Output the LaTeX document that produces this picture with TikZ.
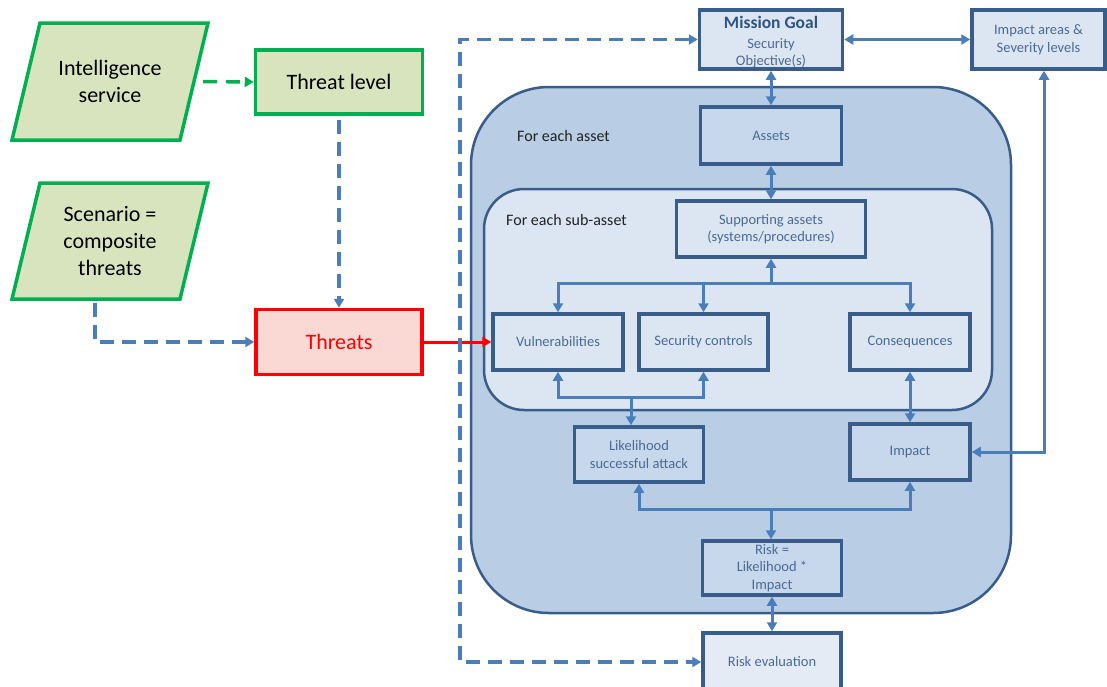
\documentclass[tikz,border=0pt]{standalone}
\usepackage{fontspec}
\setmainfont{Carlito}
\usetikzlibrary{arrows.meta}

\definecolor{conn}{HTML}{4A7EBB}
\definecolor{boxline}{HTML}{385D8A}
\definecolor{labeltext}{HTML}{4A6A96}
\definecolor{goaltext}{HTML}{2E5486}
\definecolor{outerfill}{HTML}{B9CDE5}
\definecolor{innerfill}{HTML}{DCE6F2}
\definecolor{paleblue}{HTML}{DCE6F2}
\definecolor{midblue}{HTML}{C8D8EC}
\definecolor{evalfill}{HTML}{E4EBF5}
\definecolor{flowgreen}{HTML}{00B050}
\definecolor{greenfill}{HTML}{D7E4BD}
\definecolor{threatred}{HTML}{FF0000}
\definecolor{threatfill}{HTML}{FAD9D5}
\definecolor{looptext}{HTML}{222222}

\tikzset{
  >={Triangle[length=9pt,width=10pt]},
  inputshape/.style={draw=flowgreen, line width=3.5pt, fill=greenfill},
  inputtext/.style={rectangle, minimum width=168pt, minimum height=117pt, align=center,
    inner sep=0pt, text=black, font=\fontsize{22}{27}\selectfont},
  greenbox/.style={rectangle, draw=flowgreen, line width=3.5pt, fill=greenfill,
    inner sep=0pt, text=black, font=\fontsize{22}{27}\selectfont},
  threatbox/.style={rectangle, draw=threatred, line width=3.5pt, fill=threatfill,
    inner sep=0pt, text=threatred, font=\fontsize{22}{27}\selectfont},
  bluebox/.style={rectangle, draw=boxline, line width=3.5pt, align=center, inner sep=0pt,
    text=labeltext, font=\fontsize{14.5}{17.5}\selectfont},
  container/.style={rectangle, draw=boxline, line width=2.5pt, inner sep=0pt},
  looplabel/.style={inner sep=0pt, text=looptext, font=\fontsize{16}{19}\selectfont},
  link/.style={draw=conn, line width=3pt},
  dashlink/.style={draw=conn, line width=3.5pt, dash pattern=on 14pt off 8pt},
  greenlink/.style={draw=flowgreen, line width=3.5pt, dash pattern=on 14pt off 9pt},
  redlink/.style={draw=threatred, line width=3pt},
}

\begin{document}
\begin{tikzpicture}[x=1pt,y=-1pt]
\useasboundingbox (0,0) rectangle (1107,686);
\clip (0,0) rectangle (1107,686);

% nested loop containers
\node[container, fill=outerfill, rounded corners=78pt, minimum width=540pt, minimum height=526pt] (outer) at (741,350) {};
\node[container, fill=innerfill, rounded corners=40pt, minimum width=508pt, minimum height=221pt] (inner) at (738,299.5) {};
\node[looplabel, anchor=west] (assetloop) at (517,136) {For each asset};
\node[looplabel, anchor=west] (subassetloop) at (506,220) {For each sub-asset};

% threat inputs (data parallelograms)
\draw[inputshape] (40,23) -- (208,23) -- (180,140) -- (12,140) -- cycle;
\node[inputtext] (intel) at (110,81.5) {Intelligence\\service};
\draw[inputshape] (40,183) -- (208,183) -- (180,299) -- (12,299) -- cycle;
\node[inputtext] (scenario) at (110,241) {Scenario =\\composite\\threats};
\node[greenbox, minimum width=167pt, minimum height=64pt] (tlevel) at (339,82) {Threat level};
\node[threatbox, minimum width=166pt, minimum height=65pt] (threats) at (339,342) {Threats};

% assessment chain
\node[bluebox, fill=paleblue, minimum width=143pt, minimum height=59pt] (mission) at (771,39.5)
  {\rule{0pt}{17pt}{\fontsize{17.5}{20}\selectfont\bfseries\color{goaltext}Mission Goal}\\[2.5pt]Security\\Objective(s)};
\node[bluebox, fill=paleblue, minimum width=133pt, minimum height=59pt] (areas) at (1038.5,39.5)
  {Impact areas \&\\Severity levels};
\node[bluebox, fill=midblue, minimum width=141pt, minimum height=57pt] (assets) at (771,135.5) {Assets};
\node[bluebox, fill=paleblue, minimum width=189pt, minimum height=56pt] (support) at (771,229)
  {Supporting assets\\(systems/procedures)};
\node[bluebox, fill=paleblue, minimum width=130pt, minimum height=56pt] (vuln) at (558,342) {Vulnerabilities};
\node[bluebox, fill=paleblue, minimum width=129pt, minimum height=56pt] (controls) at (703.5,342) {Security controls};
\node[bluebox, fill=paleblue, minimum width=120pt, minimum height=56pt] (conseq) at (910,342) {Consequences};
\node[bluebox, fill=midblue, minimum width=129pt, minimum height=55pt] (likelihood) at (639,454.5)
  {Likelihood\\successful attack};
\node[bluebox, fill=midblue, minimum width=120pt, minimum height=56pt] (impact) at (910,452) {Impact};
\node[bluebox, fill=midblue, minimum width=139pt, minimum height=54pt] (risk) at (772,568)
  {Risk =\\Likelihood *\\Impact};
\node[bluebox, fill=evalfill, minimum width=138pt, minimum height=58pt] (evaluation) at (772,662) {Risk evaluation};

% inputs to threats
\draw[greenlink,->] ([xshift=9pt]intel.east) -- (tlevel.west);
\draw[dashlink,->] ([yshift=-4pt]tlevel.south) -- (threats.north);
\draw[dashlink,->] ([xshift=-15pt,yshift=-3pt]scenario.south) |- (threats.west);
\draw[redlink,->] (threats.east) -- (vuln.west);

% feedback loop from mission goal to risk evaluation
\draw[dashlink,<->] (mission.west) -- ++(-238,0) |- (evaluation.west);

% solid connectors
\draw[link,<->] (mission.east) -- (areas.west);
\draw[link,<->] (mission.south) -- (assets.north);
\draw[link,<->] (assets.south) -- (support.north);

\coordinate (split) at (771,283);
\draw[link,->] (split) -- (support.south);
\draw[link,->] (split) -| (vuln.north);
\draw[link,->] (split) -| (conseq.north);
\draw[link,->] (split -| controls.north) -- (controls.north);

\coordinate (join) at (631,397);
\draw[link,->] (join) -| (vuln.south);
\draw[link,->] (join) -| (controls.south);
\draw[link,->] (join) -- (join |- likelihood.north);

\draw[link,<->] (conseq.south) -- (impact.north);
\draw[link,<->] ([xshift=5.5pt]areas.south) |- (impact.east);

\coordinate (merge) at (771,509);
\draw[link,->] (merge) -| (likelihood.south);
\draw[link,->] (merge) -| (impact.south);
\draw[link,->] (merge) -- (merge |- risk.north);
\draw[link,<->] (risk.south) -- (evaluation.north);
\end{tikzpicture}
\end{document}
